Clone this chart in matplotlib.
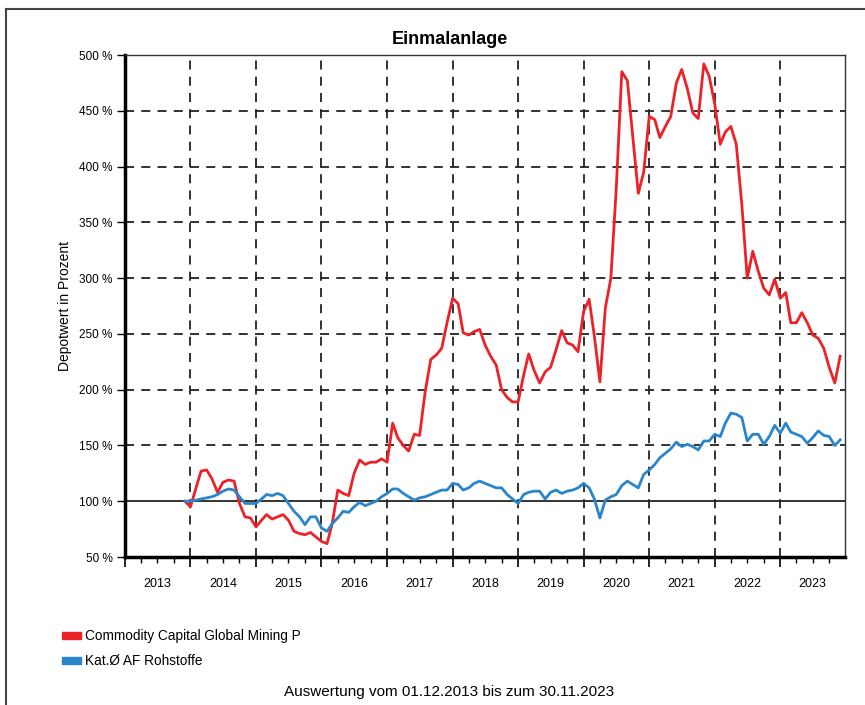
import pandas as pd
import matplotlib
matplotlib.use("Agg")
import matplotlib.pyplot as plt
import matplotlib.dates as mdates
import matplotlib.patches as mpatches
from matplotlib.lines import Line2D

plt.rcParams['font.family'] = ['Liberation Sans', 'DejaVu Sans']

# monthly values, 01.12.2013 .. 30.11.2023 (Depotwert in %)
dates = pd.date_range('2013-12-01', periods=121, freq='MS')

fund = [
    100, 95, 112, 127, 128, 120, 108, 117, 119, 118,
    98, 86, 85, 77, 83, 88, 84, 86, 88, 83,
    73, 71, 70, 72, 68, 64, 62, 80, 110, 107,
    105, 125, 137, 133, 135, 135, 138, 135, 170, 157,
    150, 145, 160, 159, 198, 227, 231, 237, 260, 282,
    277, 251, 249, 252, 254, 240, 230, 222, 200, 193,
    189, 189, 213, 232, 217, 206, 216, 220, 236, 253,
    242, 240, 234, 270, 281, 248, 207, 273, 300, 380,
    485, 477, 427, 376, 395, 445, 442, 426, 436, 445,
    475, 487, 470, 448, 443, 492, 481, 456, 420, 431,
    436, 420, 366, 300, 324, 306, 291, 285, 299, 282,
    287, 260, 260, 269, 260, 249, 246, 237, 220, 206,
    230,
]

category = [
    100, 100, 101, 102, 103, 104, 106, 109, 111, 110,
    104, 98, 98, 98, 102, 106, 105, 107, 105, 98,
    91, 86, 79, 86, 86, 76, 73, 80, 85, 91,
    90, 95, 99, 96, 98, 100, 104, 107, 111, 111,
    107, 104, 101, 103, 104, 106, 108, 110, 110, 116,
    115, 110, 112, 116, 118, 116, 114, 112, 112, 106,
    102, 98, 106, 108, 109, 109, 102, 108, 110, 107,
    109, 110, 112, 116, 112, 102, 85, 101, 104, 106,
    114, 118, 115, 112, 124, 128, 133, 139, 143, 147,
    153, 149, 151, 149, 146, 154, 154, 160, 158, 170,
    179, 178, 175, 154, 160, 160, 151, 158, 168, 161,
    170, 162, 160, 158, 152, 157, 163, 159, 158, 150,
    155,
]

labels = ['Commodity Capital Global Mining P', 'Kat.Ø AF Rohstoffe']
colors = ['#EC2227', '#2A85CB']
years = list(range(2013, 2024))
y_ticks = [50, 100, 150, 200, 250, 300, 350, 400, 450, 500]

fig = plt.figure(figsize=(8.65, 7.05), dpi=100)
ax = fig.add_axes([125 / 865, 1 - 557 / 705, 720 / 865, 502 / 705])

# grid
for yv in y_ticks[2:-1]:
    ax.axhline(yv, color='#222222', lw=1.3, ls=(0, (5, 4)), zorder=1)
ax.axhline(100, color='#333333', lw=1.4, zorder=1)
for yr in years[1:]:
    ax.axvline(pd.Timestamp(f'{yr}-01-01'), color='#222222', lw=1.3, ls=(0, (5, 4)), zorder=1)

ax.plot(dates, fund, color=colors[0], lw=2.0, zorder=3)
ax.plot(dates, category, color=colors[1], lw=2.0, zorder=3)

ax.set_xlim(pd.Timestamp('2013-01-01'), pd.Timestamp('2023-12-28'))
ax.set_ylim(50, 500)

ax.set_yticks(y_ticks)
ax.set_yticklabels([f'{v} %' for v in y_ticks], fontsize=8.5)
ax.tick_params(axis='y', direction='out', length=6, width=1, pad=3)

ax.xaxis.set_major_locator(mdates.YearLocator())
ax.xaxis.set_minor_locator(mdates.MonthLocator(bymonth=[4, 7, 10]))
ax.xaxis.set_major_formatter(plt.NullFormatter())
ax.tick_params(axis='x', which='major', direction='out', length=7, width=1.2)
ax.tick_params(axis='x', which='minor', direction='out', length=4, width=1)

for yr in years:
    ax.text(pd.Timestamp(f'{yr}-07-01'), -0.053, str(yr), transform=ax.get_xaxis_transform(),
            ha='center', va='center', fontsize=9)

for side in ['left', 'bottom']:
    ax.spines[side].set_linewidth(2.5)
for side in ['top', 'right']:
    ax.spines[side].set_linewidth(1)
    ax.spines[side].set_color('#333333')

ax.set_ylabel('Depotwert in Prozent', fontsize=10, labelpad=5)

fig.text(0.52, 1 - 40 / 705, 'Einmalanlage', ha='center', va='center',
         fontsize=13, fontweight='bold')

handles = [mpatches.Patch(color=c, label=l) for c, l in zip(colors, labels)]
fig.legend(handles=handles, loc='upper left', bbox_to_anchor=(50 / 865, 1 - 617 / 705),
           frameon=False, fontsize=9.8, handlelength=1.35, handleheight=0.45,
           handletextpad=0.3, labelspacing=0.8)

fig.text(0.519, 1 - 692 / 705, 'Auswertung vom 01.12.2013 bis zum 30.11.2023',
         ha='center', va='center', fontsize=11)

# page frame
fig.add_artist(Line2D([6 / 865, 1], [1 - 9 / 705, 1 - 9 / 705], color='#444444', lw=1.5))
fig.add_artist(Line2D([6 / 865, 6 / 865], [0, 1 - 9 / 705], color='#444444', lw=1.5))

fig.savefig('out.png', dpi=100)
